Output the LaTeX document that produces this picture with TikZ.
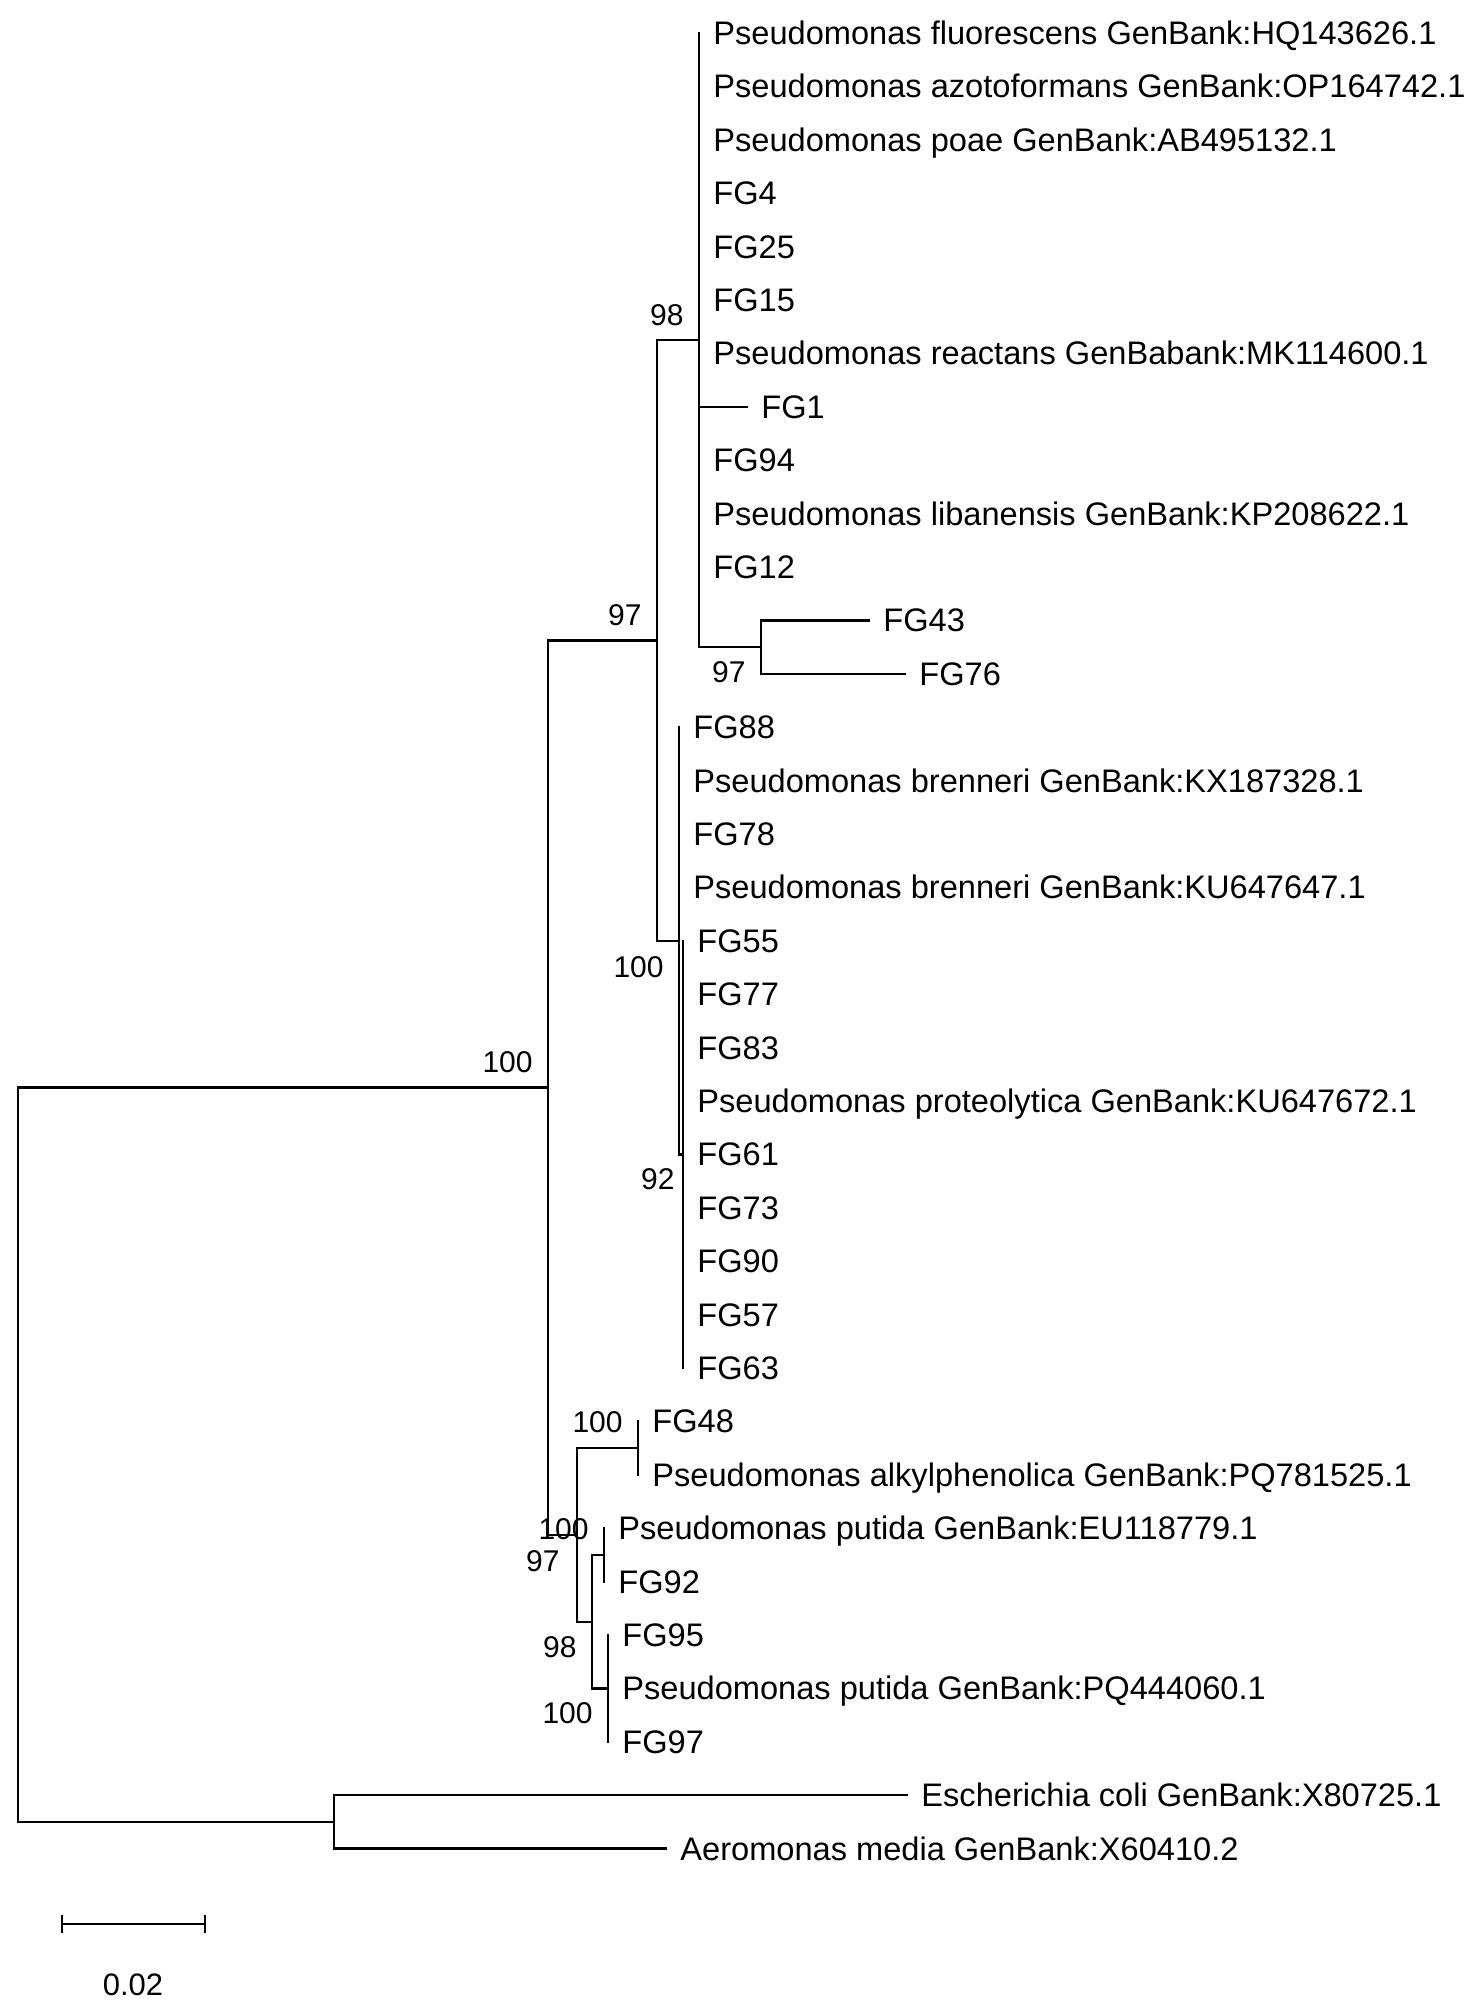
\documentclass[tikz,border=0pt]{standalone}
\usepackage{fontspec}
\setmainfont{Liberation Sans}
\begin{document}
\begin{tikzpicture}[x=0.5pt,y=-0.5pt,
  br/.style={line width=1.15pt,line cap=rect,line join=miter},
  lab/.style={anchor=base west,inner sep=0pt,font=\fontsize{16.3}{18}\selectfont},
  bs/.style={inner sep=0pt,font=\fontsize{15}{17}\selectfont},
  bsup/.style={bs,anchor=south east},
  bsdn/.style={bs,anchor=north east}]
\useasboundingbox (0,0) rectangle (1477,2007);
% internal nodes
\coordinate (root) at (18,1087.6);
\coordinate (n100) at (548,1087.6);
\coordinate (n97a) at (657,640.4);
\coordinate (n98) at (699,340.05);
\coordinate (n43) at (761,647.1);
\coordinate (nB) at (679,940.8);
\coordinate (n92) at (683,1154.4);
\coordinate (n97b) at (577,1534.9);
\coordinate (n48) at (638,1448.1);
\coordinate (n98b) at (592,1621.65);
\coordinate (nEU) at (604,1554.9);
\coordinate (nPQ) at (608,1688.4);
\coordinate (nOut) at (334,1821.9);
% leaf tips
\foreach \i/\x in {1/699,2/699,3/699,4/699,5/699,6/699,7/699,8/747,9/699,10/699,11/699,
  12/869,13/905,14/679,15/679,16/679,17/679,18/683,19/683,20/683,21/683,22/683,23/683,
  24/683,25/683,26/683,27/638,28/638,29/604,30/604,31/608,32/608,33/608,34/907,35/666}
  \coordinate (t\i) at (\x,{33+53.4*(\i-1)});
% branches
\draw[br] (root) |- (n100);
\draw[br] (root) |- (nOut);
\draw[br] (n100) |- (n97a);
\draw[br] (n100) |- (n97b);
\draw[br] (n97a) |- (n98);
\draw[br] (n97a) |- (nB);
\foreach \i in {1,...,11} \draw[br] (n98) |- (t\i);
\draw[br] (n98) |- (n43);
\draw[br] (n43) |- (t12);
\draw[br] (n43) |- (t13);
\foreach \i in {14,...,17} \draw[br] (nB) |- (t\i);
\draw[br] (nB) |- (n92);
\foreach \i in {18,...,26} \draw[br] (n92) |- (t\i);
\draw[br] (n97b) |- (n48);
\draw[br] (n97b) |- (n98b);
\draw[br] (n48) |- (t27);
\draw[br] (n48) |- (t28);
\draw[br] (n98b) |- (nEU);
\draw[br] (n98b) |- (nPQ);
\draw[br] (nEU) |- (t29);
\draw[br] (nEU) |- (t30);
\foreach \i in {31,32,33} \draw[br] (nPQ) |- (t\i);
\draw[br] (nOut) |- (t34);
\draw[br] (nOut) |- (t35);
% leaf labels
\foreach \i/\t in {
 1/{Pseudomonas fluorescens GenBank:HQ143626.1},
 2/{Pseudomonas azotoformans GenBank:OP164742.1},
 3/{Pseudomonas poae GenBank:AB495132.1},
 4/{FG4}, 5/{FG25}, 6/{FG15},
 7/{Pseudomonas reactans GenBabank:MK114600.1},
 8/{FG1}, 9/{FG94},
 10/{Pseudomonas libanensis GenBank:KP208622.1},
 11/{FG12}, 12/{FG43}, 13/{FG76}, 14/{FG88},
 15/{Pseudomonas brenneri GenBank:KX187328.1},
 16/{FG78},
 17/{Pseudomonas brenneri GenBank:KU647647.1},
 18/{FG55}, 19/{FG77}, 20/{FG83},
 21/{Pseudomonas proteolytica GenBank:KU647672.1},
 22/{FG61}, 23/{FG73}, 24/{FG90}, 25/{FG57}, 26/{FG63}, 27/{FG48},
 28/{Pseudomonas alkylphenolica GenBank:PQ781525.1},
 29/{Pseudomonas putida GenBank:EU118779.1},
 30/{FG92}, 31/{FG95},
 32/{Pseudomonas putida GenBank:PQ444060.1},
 33/{FG97},
 34/{Escherichia coli GenBank:X80725.1},
 35/{Aeromonas media GenBank:X60410.2}}
 \node[lab] (L\i) at ([xshift=7pt,yshift=-5.75pt]t\i) {\t};
% bootstrap values
\node[bsup] (b98) at ([xshift=-7.5pt,yshift=7pt]n98) {98};
\node[bsup] (b97a) at ([xshift=-7.5pt,yshift=7pt]n97a) {97};
\node[bsup] (b100) at ([xshift=-7.5pt,yshift=7pt]n100) {100};
\node[bsdn] (b43) at ([xshift=-7.5pt,yshift=-7pt]n43) {97};
\node[bsdn] (bB) at ([xshift=-7.5pt,yshift=-7.5pt]nB) {100};
\node[bsdn] (b92) at ([xshift=-4pt,yshift=-7pt]n92) {92};
\node[bsup] (b48) at ([xshift=-7.5pt,yshift=7.5pt]n48) {100};
\node[bsup] (bEU) at ([xshift=-7.5pt,yshift=7.5pt]nEU) {100};
\node[bsdn] (b97b) at ([xshift=-8.5pt,yshift=-7.5pt]n97b) {97};
\node[bsdn] (b98b) at ([xshift=-7.5pt,yshift=-7pt]n98b) {98};
\node[bsdn] (bPQ) at ([xshift=-7.5pt,yshift=-7pt]nPQ) {100};
% scale bar
\coordinate (sbL) at (62,1924);
\coordinate (sbR) at (205,1924);
\draw[br] (sbL) -- (sbR);
\draw[br] ([yshift=4pt]sbL) -- ([yshift=-4pt]sbL);
\draw[br] ([yshift=4pt]sbR) -- ([yshift=-4pt]sbR);
\node[bs,font=\fontsize{15.5}{17}\selectfont] (sblab) at (133,1985) {0.02};
\end{tikzpicture}
\end{document}
